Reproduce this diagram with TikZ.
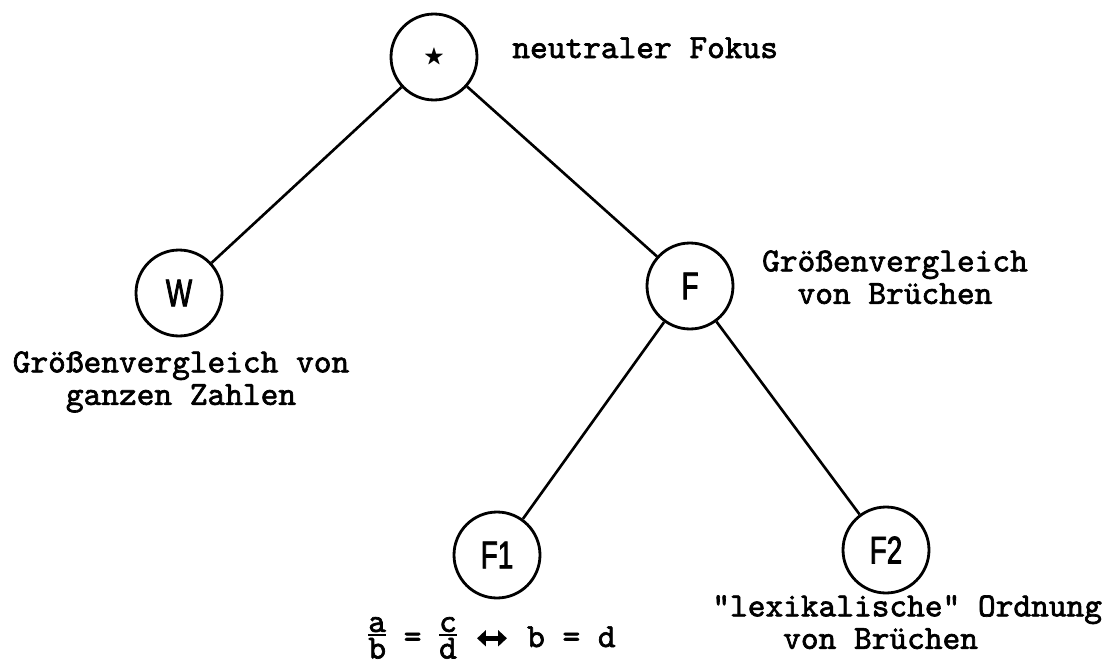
\documentclass[tikz,border=0pt]{standalone}
\usepackage{amsmath}
\usepackage{amssymb}
\usepackage{fontspec}
\setmainfont{lmmono10-regular}[Extension=.otf, FakeBold=2]
\newfontfamily\knotfont[FakeStretch=0.72, FakeBold=2]{Liberation Sans}
\usetikzlibrary{positioning,arrows.meta}

% typewriter-style fraction and fat double arrow
\newcommand{\tyfrac}[2]{\ensuremath{\vcenter{\hbox{\vbox{\halign{\hfil##\hfil\cr
  #1\cr\noalign{\kern1.2pt\hrule height0.9pt\kern1.2pt}#2\cr}}}}}}
\newcommand{\twoway}{\tikz[baseline=-0.6ex]\draw[line width=2.8pt,
  {Triangle[length=5pt,width=9pt]}-{Triangle[length=5pt,width=9pt]}] (0pt,0pt) -- (17pt,0pt);}

\begin{document}
\begin{tikzpicture}[
    x=0.02cm, y=-0.02cm,
    knot/.style = {draw, circle, line width=1.6pt, minimum size=1.72cm, inner sep=0pt,
                   font=\knotfont\fontsize{22}{24}\selectfont},
    wire/.style = {line width=1.5pt},
    lbl/.style  = {inner sep=0pt, align=center, font=\fontsize{19.2}{18.5}\selectfont}
  ]
  \useasboundingbox (0,0) rectangle (1106,666);

  % --- tree nodes
  \node[knot] (root) at (434,57)  {\fontsize{12}{12}\selectfont$\bigstar$};
  \node[knot] (W)    at (179,293) {W};
  \node[knot] (F)    at (690,286) {F};
  \node[knot] (F1)   at (497,555) {F1};
  \node[knot] (F2)   at (886,550) {F2};

  % --- branches
  \draw[wire] (root) -- (W);
  \draw[wire] (root) -- (F);
  \draw[wire] (F) -- (F1);
  \draw[wire] (F) -- (F2);

  % --- labels
  \node[lbl, anchor=base west] (rootx) at (512,58) {neutraler Fokus};
  \node[lbl, anchor=north]     (Wx)    at (181,351) {Größenvergleich von\\ganzen Zahlen};
  \node[lbl, anchor=north]     (Fx)    at (895,250) {Größenvergleich\\von Brüchen};
  \node[lbl, anchor=base]      (F1x)   at (492,647)
    {\tyfrac{a}{b} = \tyfrac{c}{d} \twoway{} b = d};
  \node[lbl, anchor=north west, align=left] (F2x) at (712,595)
    {"lexikalische" Ordnung\\\phantom{xxxx}von Brüchen};
\end{tikzpicture}
\end{document}
